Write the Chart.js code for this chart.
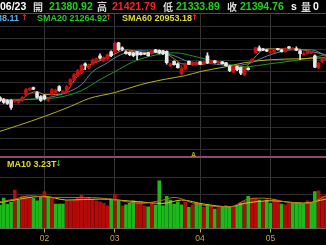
<!DOCTYPE html>
<html>
<head>
<meta charset="utf-8">
<script src="https://cdn.jsdelivr.net/npm/chart.js@4.4.1/dist/chart.umd.min.js"></script>
<style>
html, body { margin: 0; padding: 0; background: #000; overflow: hidden; }
#wrap { position: relative; width: 326px; height: 245px; }
#wrap canvas { position: absolute; left: 0; top: 0; }
.t { position: absolute; white-space: nowrap; font-family: "Liberation Sans", Arial, sans-serif; font-weight: bold; line-height: 1; color: #fff; }
.r1 { top: 1px; font-size: 10.5px; }
.cj { top: 1.5px; font-size: 10px; font-family: "Noto Sans CJK TC", "Noto Sans CJK SC", sans-serif; color: #d8d8d8; }
.r2 { top: 13.5px; font-size: 9px; }
.ar { font-family: "DejaVu Sans", sans-serif; font-size: 8px; top: 14px; }
.up { color: #ff2020; }
</style>
</head>
<body>
<div id="wrap">
  <canvas id="kline" width="326" height="245"></canvas>
  <!-- fila 1: cotizacion del dia -->
  <div class="t r1">06/23</div>
  <div class="t cj" style="left:33px">開</div>
  <div class="t r1" style="left:49px;color:#1ed21e">21380.92</div>
  <div class="t cj" style="left:97px">高</div>
  <div class="t r1" style="left:112px;color:#ff2020">21421.79</div>
  <div class="t cj" style="left:163px">低</div>
  <div class="t r1" style="left:176px;color:#1ed21e">21333.89</div>
  <div class="t cj" style="left:227px">收</div>
  <div class="t r1" style="left:240px;color:#1ed21e">21394.76</div>
  <div class="t r1" style="left:291px">s</div>
  <div class="t cj" style="left:301px">量</div>
  <div class="t r1" style="left:313px">0</div>
  <!-- fila 2: medias moviles -->
  <div class="t r2" style="left:-3px;color:#5eaee8">38.11</div>
  <div class="t ar up" style="left:21px">↑</div>
  <div class="t r2" style="left:37px;color:#22c822">SMA20 21264.92</div>
  <div class="t ar up" style="left:105px">↑</div>
  <div class="t r2" style="left:122px;color:#e0dc30">SMA60 20953.18</div>
  <div class="t ar up" style="left:191px">↑</div>
  <!-- volumen -->
  <div class="t" style="left:7px;top:159.5px;font-size:9px;color:#e0d820">MA10 3.23T</div>
  <div class="t ar" style="left:55px;top:160px;color:#22c822">↓</div>
  <div class="t" style="left:191px;top:151px;font-size:7px;color:#a8a820">A</div>
</div>
<script>
//* Datos de las velas (precio)
const open = [21290,21270,21260,21260,21250,21240,21260,21320,21370,21390,
  21340,21300,21310,21260,21320,21340,21400,21340,21340,21420,
  21470,21510,21540,21630,21590,21630,21650,21710,21660,21680,
  21750,21750,21840,21790,21750,21745,21740,21750,21740,21735,
  21740,21730,21770,21765,21760,21755,21610,21655,21630,21530,
  21580,21655,21620,21620,21650,21630,21710,21635,21660,21635,
  21650,21640,21600,21545,21600,21590,21520,21585,21650,21740,
  21790,21780,21770,21740,21745,21780,21770,21750,21800,21775,
  21780,21760,21720,21730,21735,21710,21590,21650,21670];
const high = [21300,21280,21270,21270,21270,21260,21300,21380,21390,21395,
  21350,21310,21320,21290,21380,21375,21410,21360,21410,21480,
  21530,21570,21620,21640,21625,21680,21690,21730,21700,21730,
  21760,21850,21845,21800,21760,21750,21745,21755,21745,21740,
  21745,21765,21775,21770,21765,21760,21640,21660,21640,21610,
  21640,21660,21650,21655,21655,21655,21740,21665,21665,21655,
  21655,21645,21610,21610,21605,21595,21600,21590,21680,21795,
  21810,21785,21775,21770,21775,21785,21775,21790,21805,21795,
  21800,21770,21750,21760,21755,21720,21645,21685,21710];
const low = [21250,21230,21220,21170,21240,21230,21250,21310,21360,21370,
  21280,21250,21265,21250,21310,21335,21350,21330,21330,21410,
  21460,21500,21530,21570,21580,21620,21640,21675,21650,21670,
  21700,21740,21760,21760,21725,21710,21700,21670,21715,21720,
  21705,21725,21740,21730,21720,21625,21600,21615,21585,21515,
  21570,21620,21610,21615,21620,21625,21630,21630,21635,21630,
  21625,21605,21550,21540,21560,21520,21510,21565,21645,21735,
  21755,21760,21750,21735,21740,21765,21745,21745,21785,21770,
  21760,21670,21715,21725,21730,21590,21580,21640,21660];
const close = [21260,21240,21230,21190,21260,21250,21290,21370,21380,21375,
  21290,21260,21275,21270,21370,21365,21360,21350,21400,21470,
  21520,21560,21610,21612,21615,21670,21680,21685,21695,21720,
  21710,21835,21770,21775,21730,21720,21710,21715,21722,21725,
  21710,21760,21745,21735,21730,21640,21630,21620,21590,21580,
  21630,21625,21645,21640,21625,21650,21640,21660,21640,21650,
  21630,21610,21560,21605,21570,21535,21590,21570,21675,21790,
  21760,21765,21755,21750,21770,21772,21750,21785,21790,21785,
  21765,21730,21725,21755,21750,21595,21635,21680,21700];
//* Volumen (T)
const vol = [2.40,3.11,2.50,2.67,3.93,2.91,3.35,3.32,3.18,3.08,
  2.84,3.32,3.79,3.18,3.08,2.50,2.50,2.50,2.84,2.84,
  2.91,3.18,3.42,3.11,3.08,2.98,2.84,2.73,2.57,2.33,
  3.01,3.52,2.84,2.33,2.43,2.57,2.84,2.67,2.77,2.33,
  2.22,2.67,2.40,4.88,2.33,3.28,2.91,2.50,2.73,2.43,
  2.67,2.16,2.43,2.57,2.50,2.16,2.43,2.33,1.99,2.22,
  2.16,2.33,2.22,2.16,2.33,2.60,2.77,3.28,3.08,3.11,
  2.91,2.77,2.91,2.57,3.01,2.91,2.50,2.43,2.57,2.57,
  2.60,2.57,2.50,2.84,2.67,3.79,3.86,3.32,3.32];

//* Medias moviles (indice de vela, valor)
const ma5Idx = [0,5,8,10,12,15,18,20,23,27,31,34,36,40,44,47,49,54,58,62,66,67,70,72,80,83,88];
const ma5Val = [21280,21260,21330,21350,21320,21320,21350,21460,21590,21660,21730,21770,21760,21740,21740,21680,21630,21620,21650,21610,21590,21620,21740,21780,21780,21760,21720];
const ma10Idx = [0,8,13,18,22,25,29,31,34,38,44,47,51,57,63,67,73,79,84,88];
const ma10Val = [21260,21270,21290,21340,21420,21550,21640,21690,21740,21760,21740,21710,21650,21630,21610,21630,21720,21770,21770,21710];
const ma20Idx = [0,13,17,22,27,31,36,40,44,47,54,61,66,73,81,88];
const ma20Val = [21270,21280,21300,21360,21470,21550,21650,21700,21730,21740,21690,21630,21600,21630,21670,21720];
const ma60Idx = [0,5,12,19,24,31,38,44,50,54,61,66,73,81,88];
const ma60Val = [20950,21010,21100,21200,21280,21340,21420,21470,21510,21550,21600,21640,21670,21680,21690];
const vma5Idx = [0,4,8,14,23,30,38,44,47,53,62,67,71,78,83,88];
const vma5Val = [2.73,3.01,3.35,3.18,3.18,3.01,2.57,2.91,3.18,2.50,2.22,3.01,3.11,2.67,2.57,3.35];
const vma10Idx = [0,12,18,27,36,44,49,55,62,66,73,82,88];
const vma10Val = [2.67,3.29,2.91,3.01,2.78,2.57,2.91,2.50,2.22,2.57,2.84,2.60,3.01];

//* Eje X: inicio de cada mes
const monthStart = [12, 31, 54, 73];
const monthLabels = ["02", "03", "04", "05"];

//* Lineas de rejilla
const priceMin = 20695, priceMax = 22140;
const priceGrid = [22140,22000,21888,21776,21664,21552,21440,21328,21216,21104,20992,20880,20768];
const volMax = 7.35;
const volGrid = [0, 3.5, 5.25, 7.35];

//* Colores
const RED = "#cc1010", WHITE = "#e8e8e8";
const VRED = "#b40a0a", VGREEN = "#1cb81c";

const labels = close.map((c, i) => i);
const candleCol = close.map((c, i) => (c >= open[i] ? RED : WHITE));
const volCol = close.map((c, i) => ((i === 0 ? c >= open[0] : c >= close[i - 1]) ? VRED : VGREEN));

const pts = (idx, val) => idx.map((x, k) => ({ x: x, y: val[k] }));

function maLine(idx, val, color, axis) {
  return {
    type: "line",
    data: pts(idx, val),
    yAxisID: axis,
    borderColor: color,
    borderWidth: 1,
    pointRadius: 0,
    cubicInterpolationMode: "monotone",
    order: axis === "y" ? 5 : 1,
  };
}

new Chart(document.getElementById("kline").getContext("2d"), {
  type: "bar",
  data: {
    labels: labels,
    datasets: [
      maLine(ma60Idx, ma60Val, "#b4b020", "y"),
      maLine(ma20Idx, ma20Val, "#1f9626", "y"),
      maLine(ma10Idx, ma10Val, "#4f86aa", "y"),
      maLine(ma5Idx, ma5Val, "#c07830", "y"),
      //* mechas
      {
        data: low.map((l, i) => [l, high[i]]),
        yAxisID: "y",
        backgroundColor: candleCol,
        barThickness: 1,
        grouped: false,
        order: 3,
      },
      //* cuerpos
      {
        data: open.map((o, i) => [o, close[i]]),
        yAxisID: "y",
        backgroundColor: candleCol,
        barThickness: 3,
        minBarLength: 1,
        grouped: false,
        order: 2,
      },
      //* volumen
      {
        data: vol,
        yAxisID: "yv",
        backgroundColor: volCol,
        barThickness: 3,
        grouped: false,
        order: 4,
      },
      maLine(vma5Idx, vma5Val, "#b86e1c", "yv"),
      maLine(vma10Idx, vma10Val, "#d8c81c", "yv"),
    ],
  },
  options: {
    responsive: false,
    animation: false,
    devicePixelRatio: 1,
    layout: { padding: { top: 13, left: 0, right: 0, bottom: 0 } },
    plugins: { legend: { display: false }, tooltip: { enabled: false } },
    scales: {
      x: {
        type: "category",
        offset: false,
        grid: {
          offset: false,
          color: "#353535",
          lineWidth: 1,
          drawTicks: true,
          tickLength: 4,
          tickColor: "#c8a83c",
        },
        border: { display: true, color: "#6a6a6a" },
        ticks: {
          autoSkip: false,
          maxRotation: 0,
          padding: 2,
          color: "#c8a83c",
          font: { size: 8.5, family: "Liberation Sans", lineHeight: 1 },
          callback: (v, i) => {
            const k = monthStart.indexOf(i);
            return k < 0 ? null : monthLabels[k];
          },
        },
      },
      y: {
        position: "left",
        stack: "panel",
        stackWeight: 145,
        weight: 2,
        min: priceMin,
        max: priceMax,
        ticks: { display: false },
        border: { display: false },
        grid: {
          drawTicks: false,
          color: (ctx) => (ctx.tick.value === priceMax ? "#4a4a4a" : "#2c2c2c"),
        },
        afterBuildTicks: (s) => {
          s.ticks = priceGrid.map((v) => ({ value: v }));
        },
      },
      yv: {
        position: "left",
        stack: "panel",
        stackWeight: 72.5,
        weight: 1,
        min: 0,
        max: volMax,
        ticks: { display: false },
        border: { display: false },
        grid: {
          drawTicks: false,
          color: (ctx) => (ctx.tick.value === volMax ? "#8c4a6e" : ctx.tick.value === 0 ? "#6a6a6a" : "#2c2c2c"),
          lineWidth: (ctx) => (ctx.tick.value === volMax ? 2 : 1),
        },
        afterBuildTicks: (s) => {
          s.ticks = volGrid.map((v) => ({ value: v }));
        },
      },
    },
  },
});
</script>
</body>
</html>
